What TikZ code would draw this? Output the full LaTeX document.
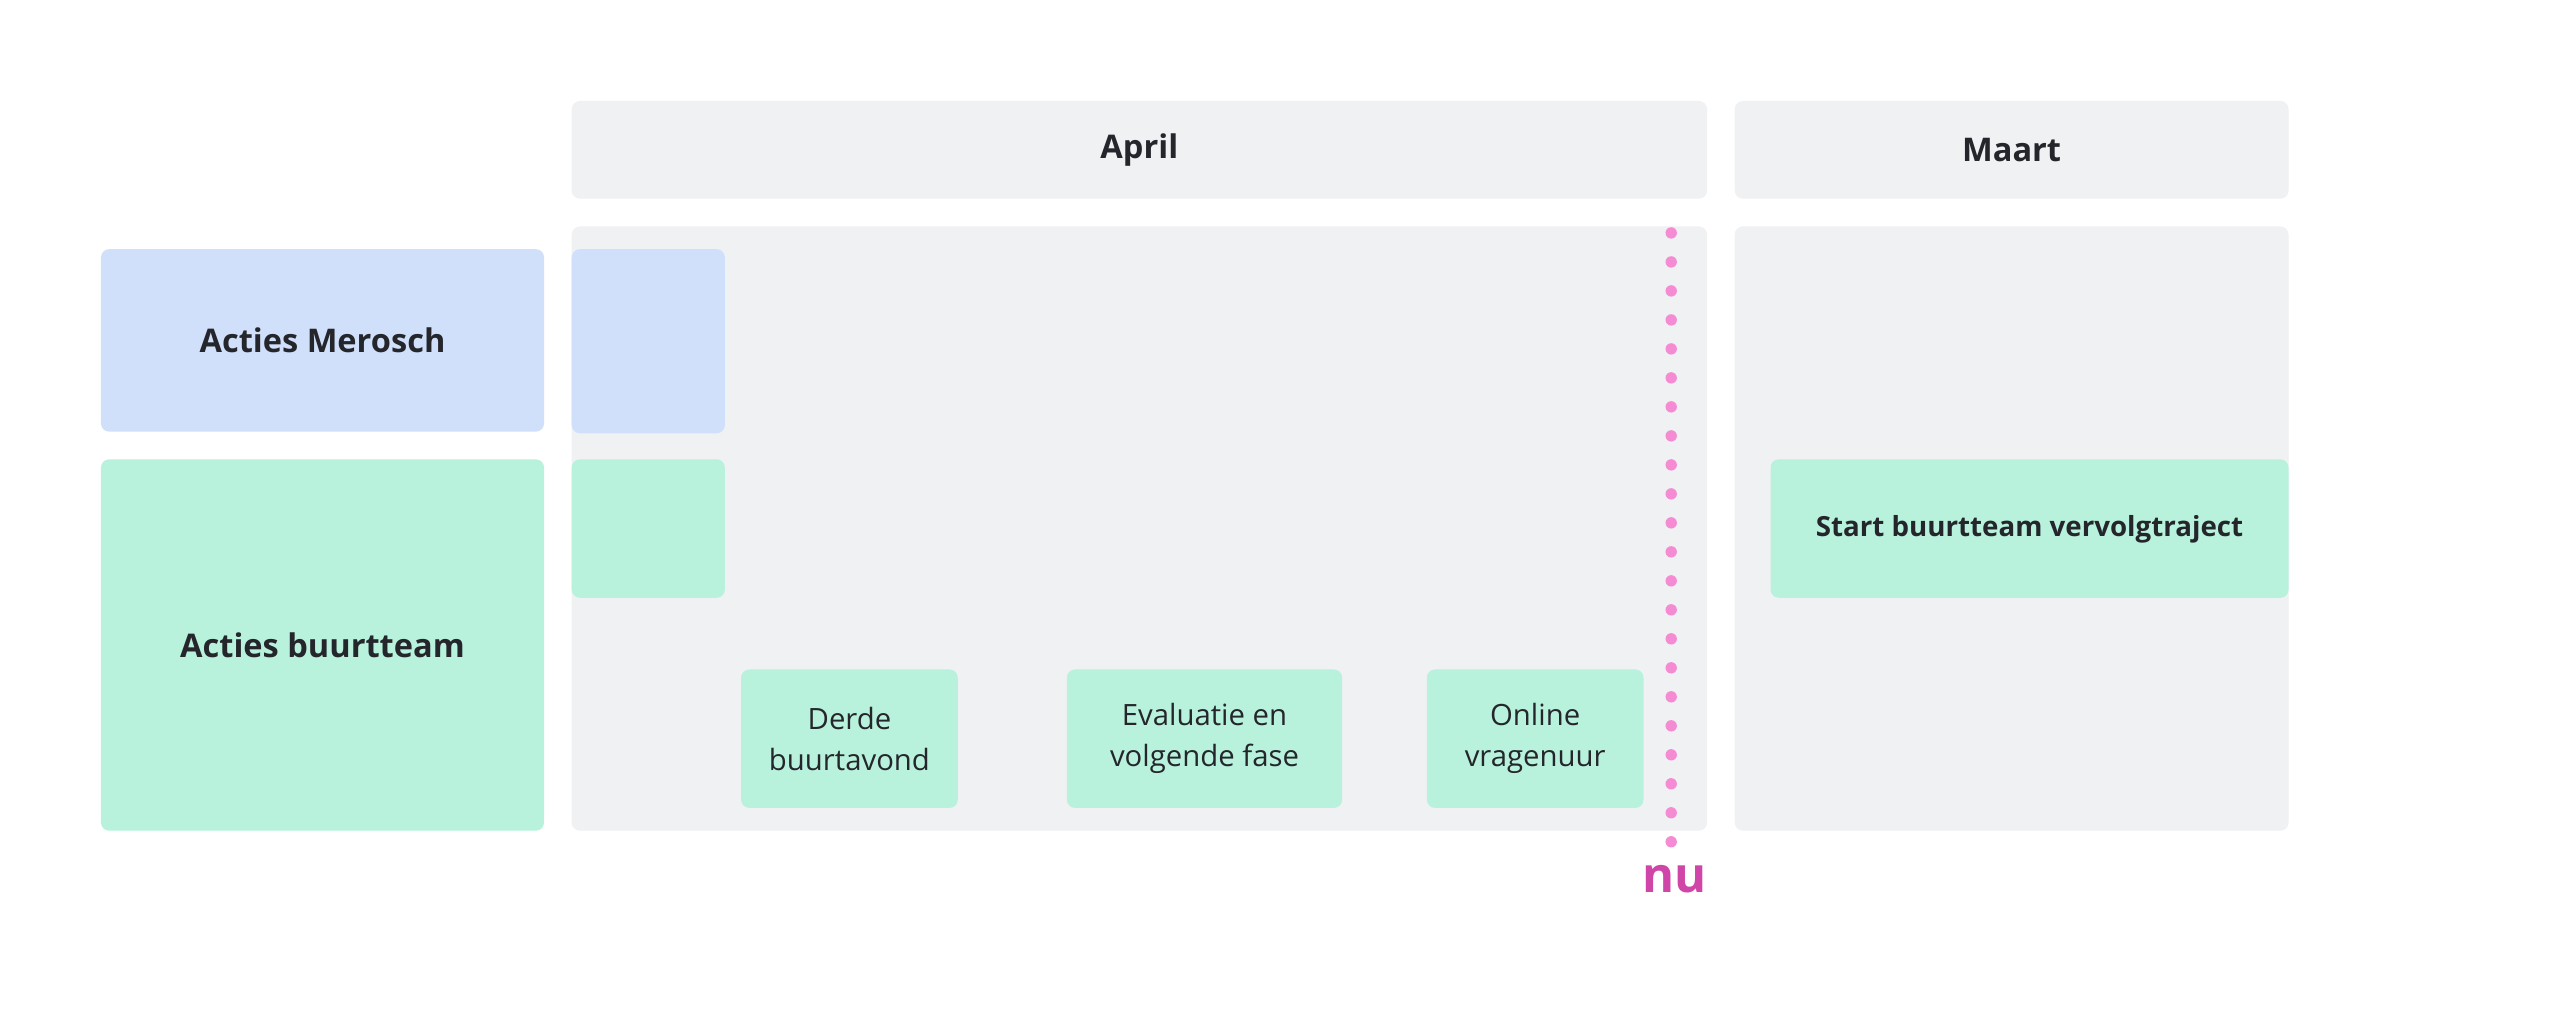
\documentclass[tikz,border=0pt]{standalone}
\usepackage{fontspec}
\setmainfont{Open Sans}
\definecolor{gr}{HTML}{F0F1F3}
\definecolor{bl}{HTML}{D0E0FB}
\definecolor{gn}{HTML}{B8F2DC}
\definecolor{pk}{HTML}{F58BD3}
\definecolor{pkt}{HTML}{D046A8}
\definecolor{tx}{HTML}{24262B}
\tikzset{
 box/.style={rounded corners=5pt, draw=none},
 lbl/.style={text=tx, font=\fontsize{20}{24}\selectfont\bfseries, align=center},
 sml/.style={text=tx, font=\fontsize{18}{25}\selectfont, align=center},
 sbl/.style={text=tx, font=\fontsize{17}{22}\selectfont\bfseries, align=center}
}
\begin{document}
\begin{tikzpicture}[x=1pt,y=-1pt]
\useasboundingbox[fill=white] (0,0) rectangle (1568,631);
\fill[box,gr] (351,62) rectangle (1048,122);
\node[lbl] (april) at (699.5,92) {April};
\fill[box,gr] (1065,62) rectangle (1405,122);
\node[lbl] (maart) at (1235,92) {Maart};
\fill[box,gr] (351,139) rectangle (1048,510);
\fill[box,gr] (1065,139) rectangle (1405,510);
\fill[box,bl] (62,153) rectangle (334,265);
\node[lbl] (am) at (198,209) {Acties Merosch};
\fill[box,gn] (62,282) rectangle (334,510);
\node[lbl] (ab) at (198,396) {Acties buurtteam};
\fill[box,bl] (351,153) rectangle (445,266);
\fill[box,gn] (351,282) rectangle (445,367);
\fill[box,gn] (455,411) rectangle (588,496);
\node[sml] (d) at (521.5,453.5) {Derde\\buurtavond};
\fill[box,gn] (655,411) rectangle (824,496);
\node[sml] (e) at (739.5,453.5) {Evaluatie en\\volgende fase};
\fill[box,gn] (876,411) rectangle (1009,496);
\node[sml] (o) at (942.5,453.5) {Online\\vragenuur};
\fill[box,gn] (1087,282) rectangle (1405,367);
\node[sbl] (s) at (1246,325) {Start buurtteam vervolgtraject};
\coordinate (t) at (1026,143);
\coordinate (b) at (1026,517);
\draw[pk, line width=7pt, line cap=round, dash pattern=on 0pt off 17.8pt] (t) -- (b);
\node[text=pkt, font=\fontsize{30}{34}\selectfont\bfseries] (nu) at (1028,540) {nu};
\end{tikzpicture}
\end{document}
